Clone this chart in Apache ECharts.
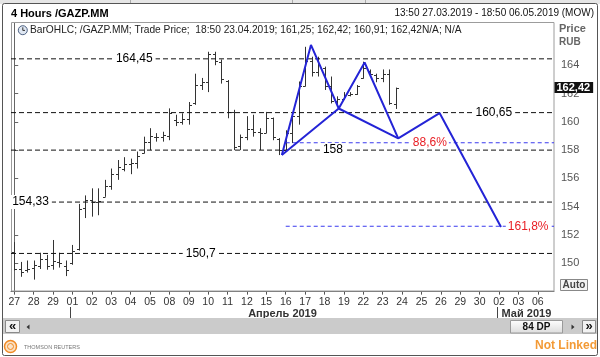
<!DOCTYPE html>
<html><head><meta charset="utf-8">
<script src="https://cdn.jsdelivr.net/npm/echarts@6/dist/echarts.min.js"></script>
<style>html,body{margin:0;padding:0;background:#fff;}#c{width:600px;height:357px;}</style>
</head><body><div id="c"></div>
<script>
// ---------- DATA ----------
const dayLabels = ['27','28','29','01','02','03','04','05','08','09','10','11','12','15','16','17','18','19','22','23','24','25','26','29','30','02','03','06'];
const barsPerDay = 3;
const opens  = [150.8,149.6,149.5,149.7,149.8,150.3,149.9,150.1,149.8,150.0,151.0,153.9,154.5,154.3,154.7,155.5,156.3,156.7,157.0,157.1,157.8,158.6,158.9,158.9,159.0,160.1,160.0,160.2,161.3,162.6,162.8,164.8,164.2,162.9,160.7,158.3,158.9,159.5,159.3,159.2,160.3,158.8,158.0,159.2,160.4,162.5,164.3,163.5,163.8,162.5,161.5,161.6,161.9,162.0,163.1,163.6,163.3,163.1,163.4,161.25];
const highs  = [151.5,150.1,150.2,150.2,150.75,150.6,151.65,150.75,150.2,151.3,154.2,154.8,155.3,155.3,155.9,156.7,157.3,157.5,157.4,157.9,158.95,159.55,159.2,159.3,160.95,160.5,160.6,161.4,163.4,163.1,164.95,164.95,164.4,162.95,160.85,159.1,160.4,160.5,159.55,160.7,160.3,158.85,159.4,160.6,162.85,165.3,164.6,164.6,163.9,163.2,161.8,162.1,162.1,162.6,164.25,163.7,163.4,163.7,163.7,162.42];
const lows   = [149.5,149.05,149.35,148.85,149.6,149.55,149.55,149.7,149.1,149.9,150.9,153.2,153.3,153.4,154.7,155.2,155.9,156.5,156.3,156.7,157.77,158.0,158.6,158.6,158.7,159.7,159.8,159.8,161.2,162.25,162.1,164.0,162.7,160.25,158.0,158.0,158.7,158.95,158.0,159.2,158.7,157.65,157.9,158.5,159.8,162.5,163.2,163.2,162.25,161.3,161.07,161.6,161.8,161.9,163.05,163.2,162.8,162.8,161.2,160.91];
const closes = [149.6,149.4,149.6,149.9,150.3,149.8,150.2,150.0,149.5,150.9,153.85,154.5,154.3,154.4,155.5,156.3,156.8,157.0,157.1,157.6,158.6,159.0,158.9,159.1,160.6,160.0,160.2,161.2,162.6,162.8,164.8,164.3,163.0,160.7,158.2,158.9,159.5,159.3,159.2,160.3,158.9,158.0,159.2,160.4,162.5,164.3,163.5,164.0,162.5,161.5,161.6,161.9,162.0,162.5,163.8,163.4,163.1,163.4,161.3,162.42];
const yTicks = [150,152,154,156,158,160,162,164];
const levelValues = [164.45,160.65,158,154.33,150.7];
const levelLabels = ['164,45','160,65','158','154,33','150,7'];
const levelLabelAt = [18.57,74.19,49.3,2.52,28.85];
const patternPath = [[41.4,157.65],[45.9,165.43],[50.2,160.94],[54.2,164.19],[59.4,158.83],[65.8,160.62],[75.3,152.57]];
const patternChords = [[41.4,157.65],[50.2,160.94],[59.4,158.83]];
const fibValues = [158.52,152.62];
const fibLabels = ['88,6%','161,8%'];
const fibStart = 42;
const fibLabelAt = [64.3,79.5];
const lastClose = 162.42;
const monthNames = ['Апрель 2019','Май 2019'];
const monthStartDay = [3,25];

// ---------- BUILD ----------
const categories = [];
dayLabels.forEach(d => { for (let k = 0; k < barsPerDay; k++) categories.push(d); });
const nCat = categories.length;
const ohlc = opens.map((o, i) => [i, o, highs[i], lows[i], closes[i]]);
const FONT = "'Liberation Sans', Arial, sans-serif";
const BAR = '#333333';
const BLUE = '#2424d6';
const HIDDEN = {color: 'rgba(0,0,0,0)', opacity: 1};

const chart = echarts.init(document.getElementById('c'), null, {renderer: 'canvas'});
const series = [];
series.push({
  type: 'custom', xAxisIndex: 0, yAxisIndex: 0, data: ohlc, encode: {x: 0, y: [1,2,3,4]}, silent: true, z: 2,
  renderItem(params, api) {
    const x = api.value(0);
    const pH = api.coord([x, api.value(2)]), pL = api.coord([x, api.value(3)]);
    const pO = api.coord([x, api.value(1)]), pC = api.coord([x, api.value(4)]);
    const cx = Math.round(pH[0]) + 0.5;
    const st = {stroke: BAR, lineWidth: 1};
    return {type: 'group', children: [
      {type: 'line', shape: {x1: cx, y1: pH[1], x2: cx, y2: pL[1]}, style: st},
      {type: 'line', shape: {x1: cx - 2.5, y1: Math.round(pO[1]) + 0.5, x2: cx, y2: Math.round(pO[1]) + 0.5}, style: st},
      {type: 'line', shape: {x1: cx, y1: Math.round(pC[1]) + 0.5, x2: cx + 2.5, y2: Math.round(pC[1]) + 0.5}, style: st}
    ]};
  }
});
levelValues.forEach(v => series.push({
  type: 'line', xAxisIndex: 1, yAxisIndex: 0, data: [[-0.5, v], [nCat - 0.5, v]], showSymbol: false, silent: true, z: 3,
  lineStyle: {color: '#111', width: 1, type: [5, 3]}
}));
fibValues.forEach(v => series.push({
  type: 'line', xAxisIndex: 1, yAxisIndex: 0, data: [[fibStart, v], [nCat - 0.5, v]], showSymbol: false, silent: true, z: 3,
  lineStyle: {color: '#3a3aee', width: 1, type: [4, 3]}
}));
series.push({type: 'line', xAxisIndex: 1, yAxisIndex: 0, data: patternPath, showSymbol: false, silent: true, z: 4,
  lineStyle: {color: BLUE, width: 2}});
series.push({type: 'line', xAxisIndex: 1, yAxisIndex: 0, data: patternChords, showSymbol: false, silent: true, z: 4,
  lineStyle: {color: BLUE, width: 2}});
series.push({type: 'scatter', xAxisIndex: 1, yAxisIndex: 0, symbolSize: 1, itemStyle: HIDDEN, silent: true, z: 5,
  data: levelValues.map((v, i) => ({name: levelLabels[i], value: [levelLabelAt[i], v]})),
  label: {show: true, position: 'inside', formatter: '{b}', color: '#000', fontFamily: FONT, fontSize: 12,
    backgroundColor: '#fff', padding: [1, 3]}});
series.push({type: 'scatter', xAxisIndex: 1, yAxisIndex: 0, symbolSize: 1, itemStyle: HIDDEN, silent: true, z: 5,
  data: fibValues.map((v, i) => ({name: fibLabels[i], value: [fibLabelAt[i], v]})),
  label: {show: true, position: 'inside', formatter: '{b}', color: '#e81e24', fontFamily: FONT, fontSize: 12,
    backgroundColor: '#fff', padding: [0, 2]}});
series.push({type: 'scatter', xAxisIndex: 1, yAxisIndex: 0, symbolSize: 1, itemStyle: HIDDEN, silent: true, z: 6, clip: false,
  data: [{name: String(lastClose).replace('.', ','), value: [nCat - 0.5, lastClose]}],
  label: {show: true, position: 'right', distance: 0, formatter: '{b}', color: '#fff', fontFamily: FONT, fontSize: 11,
    fontWeight: 'bold', backgroundColor: '#111', padding: [0, 3, 0, 2], lineHeight: 11}});

const showDay = i => i % barsPerDay === 0;
chart.setOption({
  animation: false,
  backgroundColor: '#fff',
  grid: {left: 11, right: 46, top: 22.75, bottom: 65.35, containLabel: false},
  xAxis: [
    {type: 'category', data: categories, boundaryGap: true, position: 'bottom',
      axisLine: {show: true, lineStyle: {color: '#666'}},
      axisTick: {show: true, alignWithLabel: true, interval: showDay, length: 3, lineStyle: {color: '#555'}},
      axisLabel: {interval: showDay, color: '#333', fontFamily: FONT, fontSize: 10.5, margin: 5},
      splitLine: {show: false}},
    {type: 'value', min: -0.5, max: nCat - 0.5, show: false}
  ],
  yAxis: [{type: 'value', position: 'right', min: 148, max: 167, scale: true,
    axisLine: {show: true, lineStyle: {color: '#666'}},
    axisTick: {show: true, customValues: yTicks, length: 4, lineStyle: {color: '#666'}},
    axisLabel: {customValues: yTicks, color: '#555', fontFamily: FONT, fontSize: 11, margin: 7, formatter: v => String(v)},
    splitLine: {show: false}}],
  series
});

// ---------- CHROME ----------
const px = v => chart.convertToPixel({xAxisIndex: 1}, v);
const g = [];
g.push({type: 'rect', shape: {x: 0, y: 0, width: 600, height: 4}, style: {fill: '#e6e6e6'}, z: 0});
[130, 292, 365].forEach(x => g.push({type: 'line', shape: {x1: x + .5, y1: 0, x2: x + .5, y2: 4}, style: {stroke: '#aaa'}}));
g.push({type: 'rect', shape: {x: 2.5, y: 3.5, width: 595, height: 352, r: 2}, style: {fill: 'none', stroke: '#555', lineWidth: 1}, z: 10});
g.push({type: 'rect', shape: {x: 11.5, y: 22.5, width: 542.5, height: 268.5}, style: {fill: 'none', stroke: '#9c9c9c'}, z: 1});
g.push({type: 'text', x: 11, y: 13.5, style: {text: '4 Hours /GAZP.MM', font: 'bold 11px ' + FONT, fill: '#000', verticalAlign: 'middle'}});
g.push({type: 'text', x: 594, y: 13.5, style: {text: '13:50 27.03.2019 - 18:50 06.05.2019 (MOW)', font: '10px ' + FONT, fill: '#111', align: 'right', verticalAlign: 'middle'}});
g.push({type: 'circle', shape: {cx: 22.8, cy: 30.2, r: 4.5}, style: {fill: '#dfe7f2', stroke: '#4f6384', lineWidth: 1}});
g.push({type: 'polyline', shape: {points: [[22.8, 27.3], [22.8, 30.4], [25, 30.4]]}, style: {stroke: '#333', fill: 'none', lineWidth: 1}});
g.push({type: 'text', x: 30, y: 30.5, style: {text: 'BarOHLC; /GAZP.MM; Trade Price;  18:50 23.04.2019; 161,25; 162,42; 160,91; 162,42N/A; N/A', font: '10.2px ' + FONT, fill: '#222', verticalAlign: 'middle'}});
g.push({type: 'text', x: 559, y: 28.5, style: {text: 'Price', font: 'bold 11px ' + FONT, fill: '#666', verticalAlign: 'middle'}});
g.push({type: 'text', x: 559, y: 42.5, style: {text: 'RUB', font: 'bold 10px ' + FONT, fill: '#666', verticalAlign: 'middle'}});
g.push({type: 'rect', shape: {x: 560.5, y: 279.5, width: 27, height: 11}, style: {fill: '#f4f4f4', stroke: '#888'}});
g.push({type: 'text', x: 574, y: 285.5, style: {text: 'Auto', font: 'bold 10px ' + FONT, fill: '#444', align: 'center', verticalAlign: 'middle'}});
// month labels and separators
const aprStart = monthStartDay[0] * barsPerDay, mayStart = monthStartDay[1] * barsPerDay;
const aprCenter = px((aprStart + mayStart - 1) / 2);
g.push({type: 'text', x: aprCenter, y: 313.5, style: {text: monthNames[0], font: 'bold 11px ' + FONT, fill: '#333', align: 'center', verticalAlign: 'middle'}});
g.push({type: 'text', x: px(mayStart) + 2.5, y: 313.5, style: {text: monthNames[1], font: 'bold 11px ' + FONT, fill: '#333', verticalAlign: 'middle'}});
[aprStart, mayStart].forEach(b => { const x = Math.round(px(b)) - 1.5; g.push({type: 'line', shape: {x1: x, y1: 307, x2: x, y2: 318}, style: {stroke: '#444'}}); });
// scrollbar
g.push({type: 'rect', shape: {x: 3, y: 318, width: 594, height: 16}, style: {fill: '#cbcbcb'}});
g.push({type: 'rect', shape: {x: 5.5, y: 320.5, width: 14, height: 12}, style: {fill: '#f2f2f2', stroke: '#8a8a8a'}});
g.push({type: 'text', x: 12.5, y: 326.5, style: {text: '«', font: 'bold 13px ' + FONT, fill: '#111', align: 'center', verticalAlign: 'middle'}});
g.push({type: 'polygon', shape: {points: [[26.5, 327], [29.5, 324.5], [29.5, 329.5]]}, style: {fill: '#333'}});
g.push({type: 'rect', shape: {x: 510.5, y: 320.5, width: 52, height: 12.5},
  style: {fill: new echarts.graphic.LinearGradient(0, 0, 0, 1, [{offset: 0, color: '#ffffff'}, {offset: 1, color: '#dcdcdc'}]), stroke: '#9a9a9a'}});
g.push({type: 'text', x: 536.5, y: 327, style: {text: '84 DP', font: 'bold 10px ' + FONT, fill: '#111', align: 'center', verticalAlign: 'middle'}});
g.push({type: 'polygon', shape: {points: [[571.5, 324.5], [574.5, 327], [571.5, 329.5]]}, style: {fill: '#333'}});
g.push({type: 'rect', shape: {x: 582.5, y: 320.5, width: 13, height: 12.5}, style: {fill: '#f2f2f2', stroke: '#8a8a8a'}});
g.push({type: 'text', x: 589, y: 326.5, style: {text: '»', font: 'bold 13px ' + FONT, fill: '#111', align: 'center', verticalAlign: 'middle'}});
// footer
g.push({type: 'circle', shape: {cx: 10.5, cy: 346.5, r: 6}, style: {fill: '#fbe3c8', stroke: '#f08a24', lineWidth: 1.5}});
g.push({type: 'circle', shape: {cx: 10.5, cy: 346.5, r: 3}, style: {fill: 'none', stroke: '#f08a24', lineWidth: 1}});
g.push({type: 'text', x: 24, y: 347, style: {text: 'THOMSON REUTERS', font: '5.5px ' + FONT, fill: '#777', verticalAlign: 'middle'}});
g.push({type: 'text', x: 597, y: 345.5, style: {text: 'Not Linked', font: 'bold 12px ' + FONT, fill: '#f39a35', align: 'right', verticalAlign: 'middle'}});
chart.setOption({graphic: g});
</script></body></html>
